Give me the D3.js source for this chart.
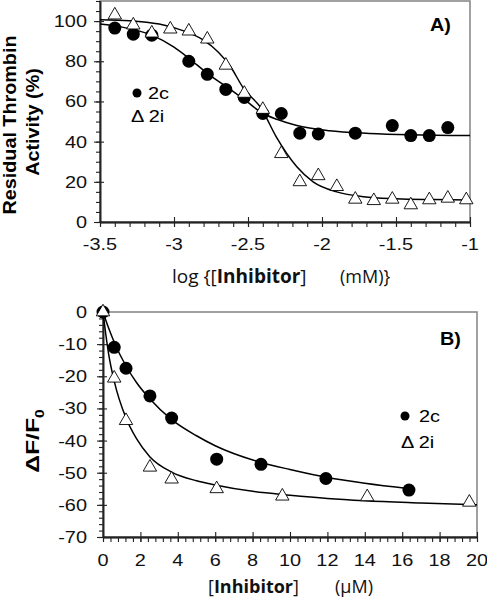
<!DOCTYPE html>
<html><head><meta charset="utf-8">
<script src="https://cdn.jsdelivr.net/npm/d3@7"></script>
<style>body{margin:0;background:#fff}svg{display:block}</style>
</head><body><svg id="c" width="487" height="600"></svg>
<script>
// ---------- Panel A data ----------
const logConcA = [-3.4,-3.275,-3.15,-3.025,-2.9,-2.775,-2.65,-2.525,-2.4,-2.275,-2.15,-2.025,-1.9,-1.775,-1.65,-1.525,-1.4,-1.275,-1.15,-1.025];
const act2c = [96.5,93.5,93,null,80,73.5,66,62,54,54,44.2,43.8,null,44.2,null,48,43,43,47,null];
const act2i = [103,98,94,96,95,91,78,64,56,34,20,23,17.6,11.3,10.6,11.3,8.5,11,11.8,11];
const fitA_x = [-3.5,-3.35,-3.15,-3.0,-2.9,-2.775,-2.62,-2.5,-2.41,-2.3,-2.17,-1.95,-1.68,-1.4,-1.0];
const fitA_2c = [98.5,97,93,87,81.5,74,66,59.5,54.5,51,48,45.4,44.1,43.4,43];
const fitA_xi = [-3.5,-3.3,-3.1,-2.95,-2.8,-2.7,-2.62,-2.53,-2.41,-2.31,-2.17,-2.06,-1.9,-1.72,-1.5,-1.25,-1.0];
const fitA_2i = [100.7,100.2,98.5,95.5,90.5,84.5,77.5,66.5,56.5,42.5,27.5,20,15,12.6,11.6,11.2,11];
const xTicksA = [-3.5,-3,-2.5,-2,-1.5,-1];
const yTicksA = [0,20,40,60,80,100];

// ---------- Panel B data ----------
const concB = [0,0.6,1.23,2.51,3.67,6.08,8.45,11.92,16.36];
const dF2c = [0,-11,-17.5,-26.1,-33,-45.8,-47.4,-51.8,-55.4];
const concBi = [0,0.6,1.23,2.51,3.67,6.08,9.59,14.13,19.59];
const dF2i = [0,-20.6,-33.8,-48.3,-52,-55,-57.3,-57.5,-59.2];
const fitB_x = [0,0.3,0.6,1.23,1.8,2.5,3.67,5,6,8.45,10,12,14,16.4];
const fitB_2c = [0,-5,-9.4,-16.8,-22,-27,-33.5,-38.5,-41.6,-46.8,-49,-51.5,-53.3,-55];
const fitB_xi = [0,0.15,0.3,0.6,1.23,1.8,2.5,3.67,5,6,8,10,12,14,17,20];
const fitB_2i = [0,-7,-13,-21.5,-33,-39.5,-45,-49.8,-52.5,-53.8,-55.8,-57,-58,-58.7,-59.4,-60];
const xTicksB = [0,2,4,6,8,10,12,14,16,18,20];
const yTicksB = [0,-10,-20,-30,-40,-50,-60,-70];

const svg = d3.select("#c");
const ARIAL = "'Liberation Sans', Arial, sans-serif";
const SEGOE = "'Open Sans', 'Noto Sans', sans-serif";
const SX = 1.17;

function place(x, y, rot, sx) {
  return svg.append("g").attr("transform", `translate(${x},${y})` + (rot ? ` rotate(${rot})` : "") + ` scale(${sx},1)`);
}

function panel(opt) {
  const {x, y, xTicks, yTicks, xMinor, yMinor} = opt;
  const [L, R] = x.range(), [B, T] = y.range();
  svg.append("rect").attr("x", L).attr("y", T).attr("width", R - L).attr("height", B - T)
    .attr("fill", "none").attr("stroke", "#8a8a8a").attr("stroke-width", 1.6);
  const gx = svg.append("g").attr("transform", `translate(0,${B})`);
  gx.call(d3.axisBottom(x).tickValues(xMinor).tickSize(5).tickSizeOuter(0).tickFormat(""));
  gx.append("g").call(d3.axisBottom(x).tickValues(xTicks).tickSize(5).tickSizeOuter(0).tickFormat(""));
  gx.append("g").call(d3.axisBottom(x).tickValues(xTicks).tickSize(-5).tickSizeOuter(0).tickFormat(""));
  const gy = svg.append("g").attr("transform", `translate(${L},0)`);
  gy.call(d3.axisLeft(y).tickValues(yMinor).tickSize(4).tickSizeOuter(0).tickFormat(""));
  gy.append("g").call(d3.axisLeft(y).tickValues(yTicks).tickSize(6).tickSizeOuter(0).tickFormat(""));
  gy.append("g").call(d3.axisLeft(y).tickValues(yTicks).tickSize(-4).tickSizeOuter(0).tickFormat(""));
  svg.selectAll(".domain").attr("stroke", "#222").attr("stroke-width", 1.4);
  svg.selectAll(".tick line").attr("stroke", "#222").attr("stroke-width", 1.1);
  xTicks.forEach(d => place(x(d), opt.xLabY, 0, SX).append("text")
    .attr("text-anchor", "middle").attr("font-family", ARIAL).attr("font-size", 17).attr("fill", "#111").text(String(d)));
  yTicks.forEach(d => place(87, y(d) + 6, 0, SX).append("text")
    .attr("text-anchor", "end").attr("font-family", ARIAL).attr("font-size", 17).attr("fill", "#111").text(String(d)));
}

function marks(x, y, xs, c, xsi, t, fx, fc, fxi, fi) {
  const line = d3.line().x(d => x(d[0])).y(d => y(d[1])).curve(d3.curveMonotoneX);
  svg.append("path").attr("d", line(d3.zip(fx, fc))).attr("fill", "none").attr("stroke", "#000").attr("stroke-width", 1.5);
  svg.append("path").attr("d", line(d3.zip(fxi, fi))).attr("fill", "none").attr("stroke", "#000").attr("stroke-width", 1.5);
  svg.append("g").selectAll("circle").data(d3.zip(xs, c).filter(d => d[1] != null)).join("circle")
    .attr("cx", d => x(d[0])).attr("cy", d => y(d[1])).attr("r", 6.5).attr("fill", "#000");
  svg.append("g").selectAll("path").data(d3.zip(xsi, t).filter(d => d[1] != null)).join("path")
    .attr("d", d3.symbol(d3.symbolTriangle, 78)())
    .attr("transform", d => `translate(${x(d[0])},${y(d[1])})`)
    .attr("fill", "#fff").attr("stroke", "#000").attr("stroke-width", 0.9);
}

// ---------- Panel A ----------
const xA = d3.scaleLinear().domain([-3.5, -1]).range([100, 470]);
const yA = d3.scaleLinear().domain([0, 110]).range([222, 1]);
panel({x: xA, y: yA, xTicks: xTicksA, yTicks: yTicksA,
  xMinor: d3.range(-35, -9).map(d => d / 10), yMinor: d3.range(0, 111, 5), xLabY: 250});
marks(xA, yA, logConcA, act2c, logConcA, act2i, fitA_x, fitA_2c, fitA_xi, fitA_2i);

// ---------- Panel B ----------
const xB = d3.scaleLinear().domain([0, 20]).range([103, 477]);
const yB = d3.scaleLinear().domain([-70, 0]).range([537, 312]);
panel({x: xB, y: yB, xTicks: xTicksB, yTicks: yTicksB,
  xMinor: d3.range(0, 101, 2).map(d => d / 5), yMinor: d3.range(-70, 1, 2), xLabY: 566});
marks(xB, yB, concB, dF2c, concBi, dF2i, fitB_x, fitB_2c, fitB_xi, fitB_2i);

// ---------- Titles / labels ----------
place(16, 125, -90, 1.13).append("text").attr("text-anchor", "middle")
  .attr("font-family", ARIAL).attr("font-weight", "bold").attr("font-size", 17.5).text("Residual Thrombin");
place(39, 122, -90, 1.13).append("text").attr("text-anchor", "middle")
  .attr("font-family", ARIAL).attr("font-weight", "bold").attr("font-size", 17.5).text("Activity (%)");

const xtA = place(172, 283, 0, 1).append("text").attr("font-family", SEGOE).attr("font-size", 19).attr("fill", "#111");
xtA.append("tspan").text("log {[");
xtA.append("tspan").attr("font-weight", "bold").text("Inhibitor");
xtA.append("tspan").text("]");
place(340, 283, 0, 1).append("text").attr("font-family", SEGOE).attr("font-size", 18).attr("fill", "#111").text("(mM)}");

const xtB = place(208, 593, 0, 1).append("text").attr("font-family", SEGOE).attr("font-size", 18).attr("fill", "#111");
xtB.append("tspan").text("[");
xtB.append("tspan").attr("font-weight", "bold").text("Inhibitor");
xtB.append("tspan").text("]");
place(335, 593, 0, 1).append("text").attr("font-family", SEGOE).attr("font-size", 18).attr("fill", "#111").text("(μM)");

const ytB = place(39, 441, -90, 1.3).append("text").attr("text-anchor", "middle")
  .attr("font-family", ARIAL).attr("font-weight", "bold").attr("font-size", 19);
ytB.append("tspan").text("ΔF/F");
ytB.append("tspan").attr("font-size", 12).attr("dy", 5).text("0");

place(430, 31, 0, 1.1).append("text").attr("font-family", ARIAL).attr("font-weight", "bold").attr("font-size", 18).text("A)");
place(440, 345, 0, 1.1).append("text").attr("font-family", ARIAL).attr("font-weight", "bold").attr("font-size", 18).text("B)");

function legend(cx, cy, tx, ty1, dx, ty2) {
  svg.append("circle").attr("cx", cx).attr("cy", cy).attr("r", 4.5).attr("fill", "#000");
  place(tx, ty1, 0, SX).append("text").attr("font-family", ARIAL).attr("font-size", 17).text("2c");
  place(dx, ty2, 0, SX).append("text").attr("font-family", ARIAL).attr("font-size", 17).text("Δ 2i");
}
legend(137, 93, 148, 99, 131, 122);
legend(405, 416, 419, 422, 401, 448);
</script></body></html>
